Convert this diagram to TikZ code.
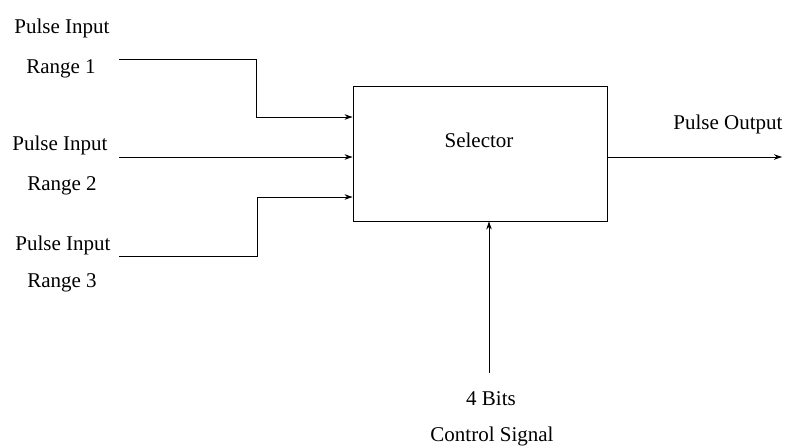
\documentclass[tikz,border=0pt]{standalone}
\usepackage{fontspec}
\setmainfont{Liberation Serif}
\usetikzlibrary{arrows.meta}

\begin{document}
\begin{tikzpicture}[x=1pt,y=-1pt,
  lbl/.style={anchor=base,inner sep=0pt,font=\fontsize{21}{25}\selectfont},
  conn/.style={draw=black,line width=0.8pt,line cap=butt,line join=miter,-{Stealth[length=8pt,width=5.5pt]}},
  selbox/.style={draw=black,line width=0.9pt,minimum width=254pt,minimum height=135pt,inner sep=0pt}]
% 786 x 447, light appearance
\useasboundingbox (0,0) rectangle (786,447);
\node[selbox] (sel) at (480,153.5) {};
\node[lbl] (sellbl) at (479,147) {Selector};
% inputs
\node[lbl] (pi1) at (62,33) {Pulse Input};
\node[lbl] (rg1) at (61,73) {Range 1};
\node[lbl] (pi2) at (60,150) {Pulse Input};
\node[lbl] (rg2) at (62,190) {Range 2};
\node[lbl] (pi3) at (63,250) {Pulse Input};
\node[lbl] (rg3) at (62,287) {Range 3};
\coordinate (in1) at (119,59);
\coordinate (bend1) at (256,117);
\coordinate (in2) at (119,157);
\coordinate (in3) at (119,256);
\coordinate (bend3) at (257,197);
\path[conn] (in1) -| (bend1) -- (sel.west |- bend1);
\path[conn] (in2) -- (sel.west |- in2);
\path[conn] (in3) -| (bend3) -- (sel.west |- bend3);
% output
\node[lbl] (pout) at (728,129) {Pulse Output};
\coordinate (out) at (782,157);
\path[conn] (sel.east |- out) -- (out);
% control
\node[lbl] (bits) at (491,405) {4 Bits};
\node[lbl] (ctlsig) at (492,441) {Control Signal};
\coordinate (ctl) at (489,373);
\path[conn] (ctl) -- (sel.south -| ctl);
\end{tikzpicture}
\end{document}
